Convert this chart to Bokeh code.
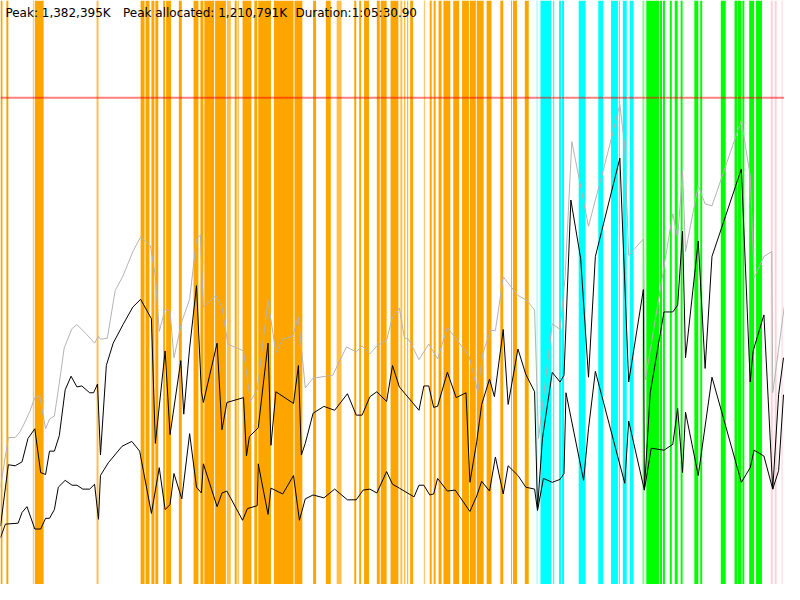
from bokeh.plotting import figure
from bokeh.models import ColumnDataSource, Label
from bokeh.embed import file_html
from bokeh.resources import INLINE

# phase bands along the time axis: (start, end, kind)
band_start = [0, 6, 33, 35, 98, 143, 148, 154, 158, 166, 169, 182, 197, 204, 208, 219, 231, 239, 242,
              247, 259, 263, 279, 300, 319, 332, 343, 361, 366, 371, 384, 388, 398, 408, 412, 415, 418,
              432, 438, 442, 447, 452, 462, 471, 479, 486, 496, 510, 521, 523, 535,
              547, 551, 564, 570, 573, 590, 610, 623, 631, 635, 642,
              655, 659, 673, 676, 683, 688, 694, 708, 714, 735, 749, 752.5, 757, 764, 771,
              786, 790, 797]
band_end = [2, 8, 34, 44, 100, 147, 152, 157, 161, 168, 174, 185, 202, 207, 218, 230, 235, 241, 243,
            256, 262, 276, 299, 308, 322, 337, 348, 363, 368, 376, 387, 394, 406, 410, 413, 416, 421,
            433, 440, 444, 450, 459, 468, 478, 485, 493, 501, 513, 522, 527, 539,
            548, 562, 565, 572, 575, 597, 615, 630, 632, 639, 646,
            657, 672, 675, 678, 685, 691, 696, 712, 716, 740, 752, 756, 759, 769, 777,
            788, 792, 798]
band_kind = ["o", "o", "ol", "o", "ol", "o", "o", "o", "o", "o", "o", "o", "o", "o", "o", "o", "ol", "o", "o",
             "o", "o", "o", "o", "o", "o", "o", "ol", "o", "o", "o", "o", "o", "o", "ol", "o", "o", "o",
             "ol", "o", "o", "o", "o", "o", "o", "o", "o", "o", "o", "o", "o", "o",
             "cl", "c", "c", "c", "c", "c", "c", "c", "c", "c", "c",
             "gl", "g", "g", "g", "g", "g", "g", "g", "g", "g", "g", "g", "g", "g", "g",
             "p", "p", "p"]

limit = 500

gray_t = [0, 8, 15, 20, 25, 30, 35, 40, 46, 50, 55, 60, 65, 73, 78, 87, 96, 100, 102, 109, 117, 125, 135,
          143, 153, 158, 162, 168, 173, 177, 185, 193, 200, 204, 207, 220, 226, 232, 248, 255, 262, 273,
          281, 288, 298, 304, 311, 319, 339, 353, 363, 369, 377, 384, 394, 400, 407, 412, 417, 427, 437,
          446, 456, 478, 487, 492, 500, 505, 513, 528, 537, 545, 549, 563, 571, 576, 583, 600, 607, 617,
          632, 637, 641, 656, 658, 686, 691, 696, 699, 712, 719, 726, 756, 765, 769, 779, 787, 788, 800]
gray_mem = [100, 151, 151, 157, 167, 178, 192, 194, 160, 170, 173, 207, 243, 263, 267, 258, 248, 255, 252,
            253, 302, 317, 342, 357, 348, 317, 260, 283, 281, 233, 270, 293, 355, 359, 285, 297, 285, 247,
            240, 188, 200, 292, 238, 252, 255, 275, 202, 212, 215, 244, 239, 245, 237, 245, 251, 275, 284,
            254, 251, 231, 247, 232, 264, 235, 198, 237, 261, 261, 316, 297, 292, 282, 150, 268, 262, 314,
            455, 368, 395, 433, 493, 450, 338, 355, 210, 381, 356, 425, 342, 410, 391, 389, 477, 420, 315,
            337, 342, 197, 287]

used_t = [0, 8, 15, 22, 28, 35, 41, 46, 50, 55, 60, 66, 72, 78, 83, 91, 95, 99, 102, 108, 115, 125, 135,
          143, 154, 158, 168, 173, 184, 187, 193, 200, 205, 207, 221, 226, 231, 248, 251, 254, 263, 273,
          276, 281, 299, 304, 307, 311, 319, 330, 341, 354, 363, 369, 377, 384, 394, 400, 407, 427, 432,
          437, 442, 446, 456, 465, 475, 479, 486, 491, 499, 504, 513, 518, 528, 536, 545, 548, 553, 563,
          571, 575, 582, 592, 600, 607, 632, 641, 656, 657, 663, 677, 686, 691, 696, 699, 712, 719, 726,
          756, 765, 768, 779, 788, 794, 799]
used_mem = [60, 123, 122, 126, 150, 160, 115, 113, 137, 137, 153, 200, 214, 203, 204, 197, 197, 206, 133,
            225, 248, 267, 285, 293, 273, 145, 240, 154, 230, 175, 243, 307, 198, 187, 248, 159, 187, 192,
            132, 152, 161, 248, 143, 198, 186, 225, 133, 145, 176, 183, 179, 196, 174, 174, 193, 198, 188,
            225, 203, 179, 204, 204, 182, 183, 218, 192, 197, 105, 147, 185, 211, 193, 262, 185, 242, 216,
            198, 78, 150, 218, 208, 215, 395, 335, 213, 337, 438, 208, 303, 97, 197, 280, 280, 287, 363,
            233, 353, 222, 337, 427, 208, 240, 277, 98, 195, 233]

live_t = [0, 5, 18, 22, 27, 35, 41, 46, 50, 55, 59, 66, 73, 78, 84, 91, 96, 100, 102, 110, 124, 134, 142,
          154, 162, 168, 173, 177, 185, 193, 200, 205, 207, 221, 226, 231, 247, 252, 262, 263, 273, 276,
          288, 299, 305, 311, 319, 330, 341, 354, 363, 370, 377, 384, 394, 400, 407, 422, 427, 432, 438,
          442, 446, 456, 464, 479, 486, 491, 499, 505, 513, 518, 528, 536, 545, 548, 554, 563, 571, 575,
          577, 595, 600, 607, 637, 641, 657, 664, 677, 686, 691, 696, 699, 712, 726, 756, 765, 769, 779,
          788, 794, 799]
live_mem = [48, 62, 63, 74, 80, 57, 57, 68, 68, 77, 100, 107, 102, 102, 98, 98, 103, 67, 112, 125, 142, 147,
            137, 73, 120, 77, 82, 114, 88, 155, 100, 94, 124, 80, 94, 96, 66, 78, 81, 124, 72, 99, 93, 112,
            66, 88, 92, 89, 98, 87, 87, 97, 98, 94, 116, 103, 99, 90, 102, 102, 92, 93, 109, 96, 97, 75,
            91, 106, 96, 131, 93, 122, 112, 100, 98, 76, 109, 105, 108, 114, 197, 107, 160, 219, 104, 168,
            97, 140, 138, 144, 181, 115, 177, 112, 213, 105, 120, 138, 132, 98, 117, 195]

kind_color = {"o": "#FFA500", "ol": "#FFC04D", "c": "#00FFFF", "cl": "#80FFFF",
              "g": "#00FF00", "gl": "#80FF80", "p": "#FFD0D8"}

bands = ColumnDataSource(dict(left=band_start, right=band_end,
                              color=[kind_color[k] for k in band_kind]))

p = figure(width=784, height=584, x_range=(0, 800), y_range=(0, 600),
           output_backend="svg", toolbar_location=None, min_border=0)
p.axis.visible = False
p.grid.visible = False
p.outline_line_color = None
p.background_fill_color = "white"

p.quad(left="left", right="right", bottom=0, top=600, source=bands,
       fill_color="color", line_color=None)
p.line(x=[0, 800], y=[limit, limit], line_color="red", line_alpha=0.5, line_width=2)
p.line(x=gray_t, y=gray_mem, line_color="#b4b4b4", line_width=1)
p.line(x=used_t, y=used_mem, line_color="black", line_width=1)
p.line(x=live_t, y=live_mem, line_color="black", line_width=1)

for x, txt in [(5, "Peak: 1,382,395K"), (125, "Peak allocated: 1,210,791K"), (301, "Duration:1:05:30.90")]:
    p.add_layout(Label(x=x, y=587, text=txt, text_font="DejaVu Sans", text_font_size="12px",
                       text_baseline="middle", text_color="black"))

open("out.html", "w").write(file_html(p, INLINE))
